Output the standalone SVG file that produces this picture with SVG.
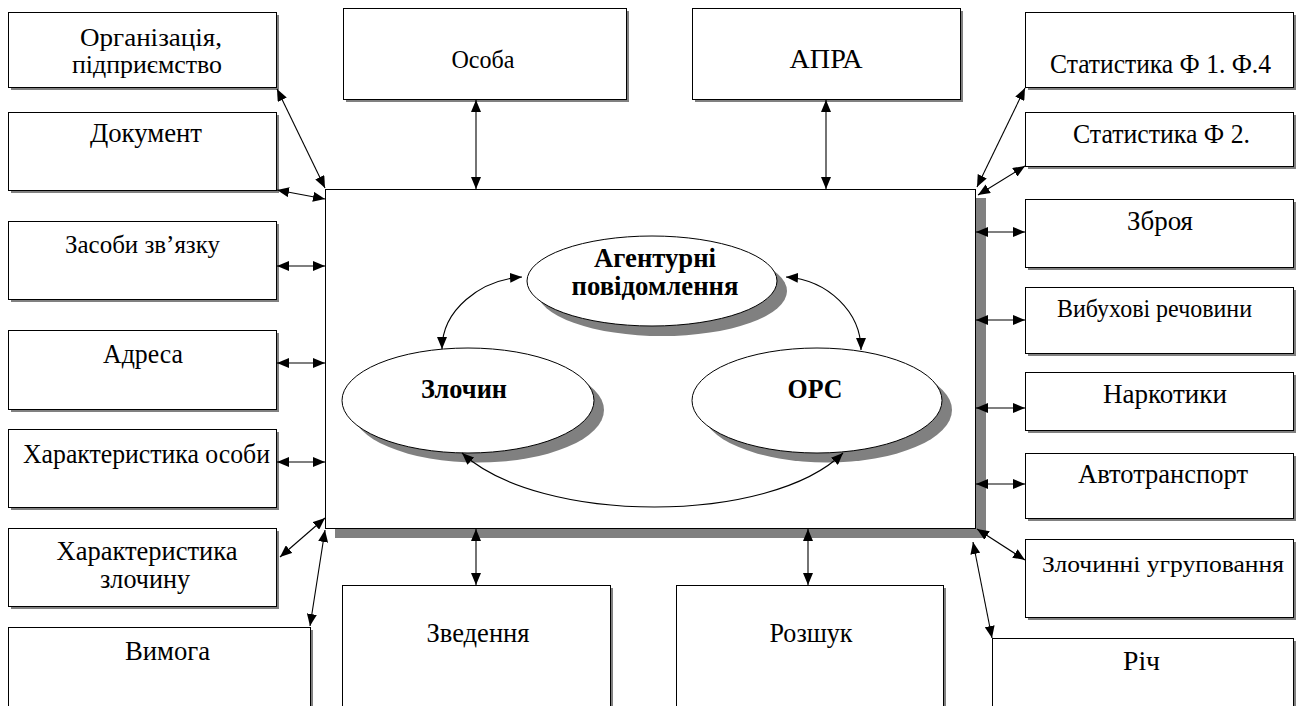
<svg xmlns="http://www.w3.org/2000/svg" width="1301" height="706" viewBox="0 0 1301 706">
<style>
.box{fill:#fff;stroke:#000;stroke-width:1}
.sh{fill:#808080}
.t{font-family:"Liberation Serif","Times New Roman",serif;font-size:28px;fill:#000;text-anchor:middle}
.s{font-size:25px}
.b{font-weight:bold}
.c{fill:none;stroke:#000;stroke-width:1.1;marker-start:url(#ah);marker-end:url(#ah)}
</style>
<defs>
<marker id="ah" viewBox="0 0 12 10" refX="12" refY="5" markerWidth="12" markerHeight="10" markerUnits="userSpaceOnUse" orient="auto-start-reverse"><path d="M0,0 L12,5 L0,10 z" fill="#000"/></marker>
</defs>
<rect width="1301" height="706" fill="#fff"/>

<g id="center">
<rect class="sh" x="335" y="198" width="651" height="340"/>
<rect class="box" x="325.5" y="189.5" width="650" height="339"/>
</g>

<g id="agent">
<ellipse class="sh" cx="662" cy="291" rx="125" ry="45"/>
<ellipse class="box" cx="652" cy="281" rx="125" ry="45"/>
<text class="t b" x="655" y="267" textLength="122" lengthAdjust="spacingAndGlyphs">Агентурні</text>
<text class="t b" x="655" y="295" textLength="167" lengthAdjust="spacingAndGlyphs">повідомлення</text>
</g>
<g id="zlochyn">
<ellipse class="sh" cx="478" cy="410" rx="126" ry="52.5"/>
<ellipse class="box" cx="468" cy="400.5" rx="126" ry="52.5"/>
<text class="t b" x="464" y="398" textLength="86" lengthAdjust="spacingAndGlyphs">Злочин</text>
</g>
<g id="ors">
<ellipse class="sh" cx="827" cy="410" rx="125" ry="52.5"/>
<ellipse class="box" cx="817" cy="400.5" rx="125" ry="52.5"/>
<text class="t b" x="815" y="398" textLength="55" lengthAdjust="spacingAndGlyphs">ОРС</text>
</g>

<g id="organization">
<rect class="sh" x="11" y="15" width="268" height="75"/>
<rect class="box" x="8.5" y="12.5" width="268" height="75"/>
<text class="t s" x="151" y="46" textLength="142" lengthAdjust="spacingAndGlyphs">Організація,</text>
<text class="t s" x="147" y="73" textLength="150" lengthAdjust="spacingAndGlyphs">підприємство</text>
</g>
<g id="document">
<rect class="sh" x="11" y="115" width="268" height="78"/>
<rect class="box" x="8.5" y="112.5" width="268" height="78"/>
<text class="t" x="146" y="142" textLength="112" lengthAdjust="spacingAndGlyphs">Документ</text>
</g>
<g id="communication">
<rect class="sh" x="11" y="224" width="268" height="78"/>
<rect class="box" x="8.5" y="221.5" width="268" height="78"/>
<text class="t s" x="142.5" y="253" textLength="155" lengthAdjust="spacingAndGlyphs">Засоби зв’язку</text>
</g>
<g id="address">
<rect class="sh" x="11" y="333" width="268" height="79"/>
<rect class="box" x="8.5" y="330.5" width="268" height="79"/>
<text class="t" x="143" y="363" textLength="80" lengthAdjust="spacingAndGlyphs">Адреса</text>
</g>
<g id="person-char">
<rect class="sh" x="11" y="432" width="268" height="78"/>
<rect class="box" x="8.5" y="429.5" width="268" height="78"/>
<text class="t" x="146.5" y="463" textLength="247" lengthAdjust="spacingAndGlyphs">Характеристика особи</text>
</g>
<g id="crime-char">
<rect class="sh" x="11" y="531" width="268" height="78"/>
<rect class="box" x="8.5" y="528.5" width="268" height="78"/>
<text class="t" x="147" y="560" textLength="181" lengthAdjust="spacingAndGlyphs">Характеристика</text>
<text class="t" x="145" y="588" textLength="90" lengthAdjust="spacingAndGlyphs">злочину</text>
</g>
<g id="demand">
<rect class="sh" x="11" y="630" width="302" height="90"/>
<rect class="box" x="8.5" y="627.5" width="302" height="90"/>
<text class="t" x="167.5" y="660" textLength="85" lengthAdjust="spacingAndGlyphs">Вимога</text>
</g>

<g id="person">
<rect class="sh" x="346" y="11" width="283" height="91"/>
<rect class="box" x="343.5" y="8.5" width="283" height="91"/>
<text class="t s" x="483" y="68" textLength="63" lengthAdjust="spacingAndGlyphs">Особа</text>
</g>
<g id="apra">
<rect class="sh" x="695" y="11" width="268" height="91"/>
<rect class="box" x="692.5" y="8.5" width="268" height="91"/>
<text class="t" x="826" y="68" textLength="73" lengthAdjust="spacingAndGlyphs">АПРА</text>
</g>

<g id="stat14">
<rect class="sh" x="1028" y="15" width="268" height="75"/>
<rect class="box" x="1025.5" y="12.5" width="268" height="75"/>
<text class="t" x="1160.5" y="73" textLength="221" lengthAdjust="spacingAndGlyphs">Статистика Ф 1. Ф.4</text>
</g>
<g id="stat2">
<rect class="sh" x="1028" y="115" width="268" height="54"/>
<rect class="box" x="1025.5" y="112.5" width="268" height="54"/>
<text class="t" x="1161.5" y="143" textLength="177" lengthAdjust="spacingAndGlyphs">Статистика Ф 2.</text>
</g>
<g id="weapon">
<rect class="sh" x="1028" y="202" width="268" height="68"/>
<rect class="box" x="1025.5" y="199.5" width="268" height="68"/>
<text class="t" x="1160" y="230" textLength="66" lengthAdjust="spacingAndGlyphs">Зброя</text>
</g>
<g id="explosives">
<rect class="sh" x="1028" y="290" width="268" height="66"/>
<rect class="box" x="1025.5" y="287.5" width="268" height="66"/>
<text class="t s" x="1154.5" y="317" textLength="195" lengthAdjust="spacingAndGlyphs">Вибухові речовини</text>
</g>
<g id="drugs">
<rect class="sh" x="1028" y="375" width="268" height="58"/>
<rect class="box" x="1025.5" y="372.5" width="268" height="58"/>
<text class="t" x="1165" y="403" textLength="124" lengthAdjust="spacingAndGlyphs">Наркотики</text>
</g>
<g id="vehicles">
<rect class="sh" x="1028" y="456" width="268" height="65"/>
<rect class="box" x="1025.5" y="453.5" width="268" height="65"/>
<text class="t" x="1163" y="483" textLength="170" lengthAdjust="spacingAndGlyphs">Автотранспорт</text>
</g>
<g id="groups">
<rect class="sh" x="1028" y="542" width="268" height="78"/>
<rect class="box" x="1025.5" y="539.5" width="268" height="78"/>
<text class="t" x="1163" y="572" font-size="24" style="font-size:24px" textLength="242" lengthAdjust="spacingAndGlyphs">Злочинні угруповання</text>
</g>
<g id="thing">
<rect class="sh" x="995" y="641" width="301" height="90"/>
<rect class="box" x="992.5" y="638.5" width="301" height="90"/>
<text class="t" x="1141.5" y="670" textLength="37" lengthAdjust="spacingAndGlyphs">Річ</text>
</g>

<g id="zvedennia">
<rect class="sh" x="345" y="588" width="268" height="140"/>
<rect class="box" x="342.5" y="585.5" width="268" height="140"/>
<text class="t" x="478" y="642" textLength="103" lengthAdjust="spacingAndGlyphs">Зведення</text>
</g>
<g id="rozshuk">
<rect class="sh" x="679" y="588" width="267" height="140"/>
<rect class="box" x="676.5" y="585.5" width="267" height="140"/>
<text class="t" x="811" y="642" textLength="83" lengthAdjust="spacingAndGlyphs">Розшук</text>
</g>

<g id="connectors">
<line class="c" x1="277" y1="89" x2="325" y2="188"/>
<line class="c" x1="277" y1="190" x2="325" y2="199"/>
<line class="c" x1="277" y1="266" x2="325" y2="266"/>
<line class="c" x1="277" y1="363" x2="325" y2="363"/>
<line class="c" x1="277" y1="462" x2="325" y2="462"/>
<line class="c" x1="280" y1="557" x2="325" y2="518"/>
<line class="c" x1="310" y1="626" x2="325" y2="530"/>
<line class="c" x1="476" y1="100" x2="476" y2="189"/>
<line class="c" x1="826" y1="100" x2="826" y2="189"/>
<line class="c" x1="1025" y1="88" x2="977" y2="187"/>
<line class="c" x1="1025" y1="166" x2="978" y2="195"/>
<line class="c" x1="976" y1="232" x2="1025" y2="232"/>
<line class="c" x1="976" y1="320" x2="1025" y2="320"/>
<line class="c" x1="976" y1="408" x2="1025" y2="408"/>
<line class="c" x1="976" y1="484" x2="1025" y2="484"/>
<line class="c" x1="977" y1="529" x2="1025" y2="560"/>
<line class="c" x1="973" y1="542" x2="992" y2="638"/>
<line class="c" x1="476" y1="529" x2="476" y2="585"/>
<line class="c" x1="808" y1="529" x2="808" y2="585"/>
<path class="c" d="M522 277 C480 280 442 310 442 349"/>
<path class="c" d="M786 277 C828 280 861 312 861 350"/>
<path class="c" d="M462 453 C540 525 770 525 843 453"/>
</g>
</svg>
